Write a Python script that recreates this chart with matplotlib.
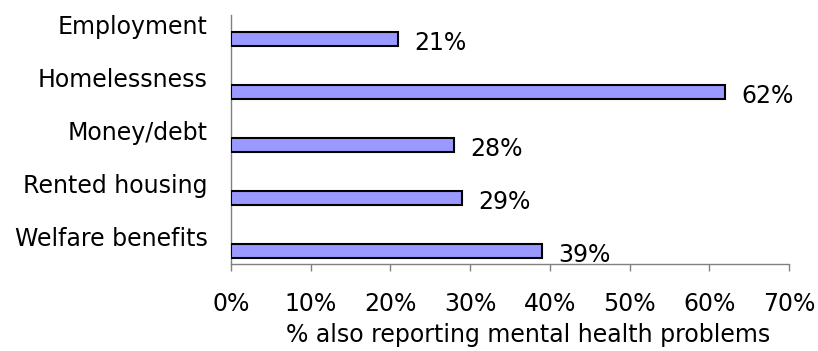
import matplotlib.pyplot as plt
from matplotlib.ticker import FuncFormatter

categories = ['Employment', 'Homelessness', 'Money/debt', 'Rented housing', 'Welfare benefits']
values = [21, 62, 28, 29, 39]
x_ticks = [0, 10, 20, 30, 40, 50, 60, 70]

plt.rcParams['font.family'] = ['DejaVu Sans']

fig = plt.figure(figsize=(8.18, 3.51), dpi=100)
ax = fig.add_axes([231/818, 87/351, 558/818, 249/351])

pos = list(range(len(categories)))

# bars sit in the lower part of each slot, labels above them
ax.barh(pos, values, height=0.283, color='#9999ff', edgecolor='black', linewidth=1.5, zorder=3)
for p, v in zip(pos, values):
    ax.text(v + 2.0, p + 0.07, '%d%%' % v, va='center', ha='left', fontsize=17)

ax.set_xlim(0, 70)
ax.set_ylim((264 - 39)/53, (15 - 39)/53)
ax.set_xticks(x_ticks)
ax.xaxis.set_major_formatter(FuncFormatter(lambda x, _: '%d%%' % x))
ax.set_yticks([p - 0.28 for p in pos])
ax.set_yticklabels(categories)

ax.tick_params(axis='x', direction='out', length=5, width=1, color='#808080', labelsize=17, pad=15)
ax.tick_params(axis='y', length=0, labelsize=17, pad=17)

for side in ['top', 'right']:
    ax.spines[side].set_visible(False)
for side in ['left', 'bottom']:
    ax.spines[side].set_color('#808080')
    ax.spines[side].set_linewidth(1)

ax.set_xlabel('% also reporting mental health problems', fontsize=17, labelpad=5,
              x=(528 - 231)/558, ha='center')

fig.savefig('out.png', dpi=100)
